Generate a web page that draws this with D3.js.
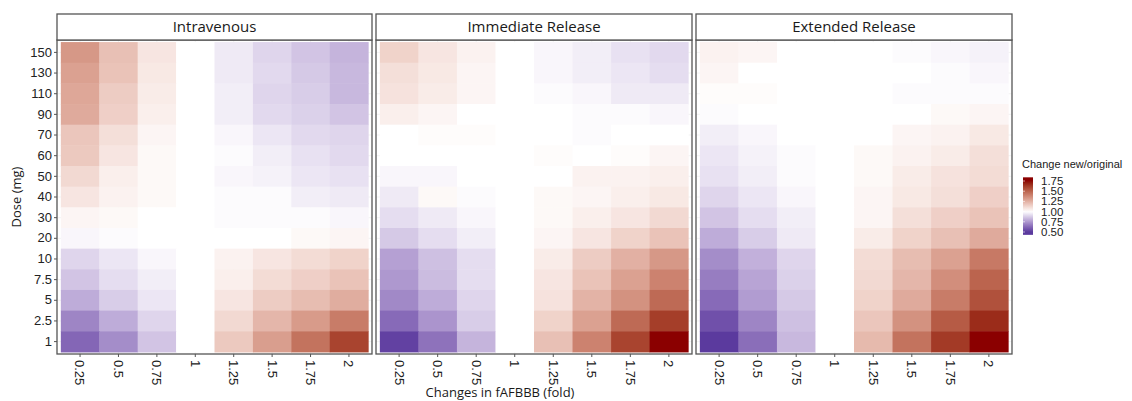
<!DOCTYPE html>
<html>
<head>
<meta charset="utf-8">
<script src="https://cdn.jsdelivr.net/npm/d3@7"></script>
<style>
  body { margin: 0; background: #fff; }
  svg { display: block; }
</style>
</head>
<body>
<div id="chart"></div>
<script>
// categories
var folds = ["0.25", "0.5", "0.75", "1", "1.25", "1.5", "1.75", "2"];
var doses = ["150", "130", "110", "90", "70", "60", "50", "40", "30", "20", "10", "7.5", "5", "2.5", "1"];
var routes = ["Intravenous", "Immediate Release", "Extended Release"];
var legendTicks = [0.5, 0.75, 1.0, 1.25, 1.5, 1.75];

// change new/original, one row per dose (same order as doses), one column per fold
var ivValues = [
  [1.33, 1.20, 1.08, 1, 0.95, 0.90, 0.86, 0.82],
  [1.30, 1.19, 1.07, 1, 0.95, 0.91, 0.87, 0.83],
  [1.28, 1.16, 1.06, 1, 0.96, 0.90, 0.88, 0.83],
  [1.27, 1.15, 1.05, 1, 0.96, 0.91, 0.89, 0.86],
  [1.18, 1.10, 1.03, 1, 0.98, 0.94, 0.91, 0.90],
  [1.17, 1.08, 1.02, 1, 0.99, 0.96, 0.93, 0.91],
  [1.12, 1.05, 1.02, 1, 0.98, 0.97, 0.94, 0.93],
  [1.08, 1.04, 1.02, 1, 0.99, 0.99, 0.96, 0.95],
  [1.03, 1.02, 1.00, 1, 0.99, 0.99, 0.99, 0.98],
  [0.98, 0.99, 1.00, 1, 1.00, 1.00, 1.02, 1.03],
  [0.90, 0.94, 0.98, 1, 1.04, 1.08, 1.11, 1.14],
  [0.86, 0.92, 0.96, 1, 1.05, 1.11, 1.15, 1.19],
  [0.80, 0.88, 0.94, 1, 1.08, 1.16, 1.21, 1.26],
  [0.70, 0.80, 0.90, 1, 1.12, 1.23, 1.32, 1.42],
  [0.62, 0.72, 0.86, 1, 1.17, 1.31, 1.45, 1.60]
];
var irValues = [
  [1.14, 1.08, 1.04, 1, 0.98, 0.96, 0.93, 0.91],
  [1.10, 1.07, 1.03, 1, 0.98, 0.96, 0.94, 0.92],
  [1.09, 1.06, 1.03, 1, 0.99, 0.98, 0.95, 0.95],
  [1.05, 1.03, 1.00, 1, 1.00, 0.99, 0.99, 0.98],
  [1.00, 1.01, 1.01, 1, 1.00, 0.99, 1.00, 1.00],
  [1.00, 1.00, 1.00, 1, 1.01, 1.00, 1.01, 1.03],
  [0.98, 0.98, 1.00, 1, 1.00, 1.04, 1.04, 1.05],
  [0.95, 1.02, 0.99, 1, 1.02, 1.03, 1.05, 1.07],
  [0.92, 0.95, 0.98, 1, 1.02, 1.05, 1.08, 1.12],
  [0.87, 0.92, 0.96, 1, 1.03, 1.08, 1.14, 1.19],
  [0.77, 0.85, 0.92, 1, 1.06, 1.16, 1.25, 1.33],
  [0.75, 0.84, 0.92, 1, 1.08, 1.19, 1.30, 1.40],
  [0.71, 0.80, 0.90, 1, 1.09, 1.24, 1.35, 1.48],
  [0.63, 0.74, 0.88, 1, 1.14, 1.30, 1.48, 1.62],
  [0.52, 0.65, 0.82, 1, 1.20, 1.40, 1.60, 1.75]
];
var erValues = [
  [1.04, 1.03, 1.00, 1, 1.00, 0.99, 0.98, 0.97],
  [1.03, 1.00, 1.00, 1, 1.00, 1.00, 0.99, 0.98],
  [1.01, 1.01, 1.00, 1, 1.00, 0.99, 0.99, 0.99],
  [0.99, 1.00, 1.00, 1, 1.00, 1.00, 1.02, 1.03],
  [0.96, 0.98, 1.00, 1, 1.00, 1.03, 1.04, 1.07],
  [0.94, 0.97, 0.99, 1, 1.02, 1.04, 1.06, 1.10],
  [0.93, 0.96, 0.99, 1, 1.02, 1.06, 1.09, 1.11],
  [0.90, 0.94, 0.98, 1, 1.03, 1.07, 1.10, 1.15],
  [0.86, 0.92, 0.96, 1, 1.03, 1.10, 1.15, 1.19],
  [0.80, 0.88, 0.95, 1, 1.06, 1.14, 1.20, 1.27],
  [0.72, 0.81, 0.90, 1, 1.11, 1.21, 1.30, 1.43],
  [0.68, 0.78, 0.89, 1, 1.12, 1.23, 1.36, 1.50],
  [0.63, 0.76, 0.87, 1, 1.14, 1.27, 1.42, 1.56],
  [0.56, 0.70, 0.85, 1, 1.18, 1.35, 1.53, 1.67],
  [0.50, 0.64, 0.83, 1, 1.22, 1.45, 1.63, 1.75]
];
var panelValues = [ivValues, irValues, erValues];

var width = 1132, height = 401;
var panelTop = 40, panelBottom = 354, stripTop = 14;
var panelX = [[57, 372], [376, 692], [696, 1012]];

var svg = d3.select("#chart").append("svg")
  .attr("width", width)
  .attr("height", height);

var color = d3.scaleLinear()
  .domain([0.5, 1, 1.75])
  .range(["#5b3a9e", "#ffffff", "#8b0000"])
  .interpolate(d3.interpolateLab)
  .clamp(true);

var y = d3.scaleBand()
  .domain(doses)
  .range([panelTop, panelBottom])
  .paddingInner(0)
  .paddingOuter(0.1);

var tickFont = "'Liberation Sans', Arial, sans-serif";
var titleFont = "'Open Sans', 'Noto Sans', sans-serif";

routes.forEach(function (route, p) {
  var x = d3.scaleBand()
    .domain(folds)
    .range(panelX[p])
    .paddingInner(0)
    .paddingOuter(0.1);

  var g = svg.append("g");

  // panel background + grid
  g.append("rect")
    .attr("x", panelX[p][0]).attr("y", panelTop)
    .attr("width", panelX[p][1] - panelX[p][0])
    .attr("height", panelBottom - panelTop)
    .attr("fill", "#fff");

  g.selectAll(".vgrid").data(folds).enter().append("line")
    .attr("x1", function (d) { return x(d) + x.bandwidth() / 2; })
    .attr("x2", function (d) { return x(d) + x.bandwidth() / 2; })
    .attr("y1", panelTop).attr("y2", panelBottom)
    .attr("stroke", "#ebebeb").attr("stroke-width", 0.6);

  g.selectAll(".hgrid").data(doses).enter().append("line")
    .attr("x1", panelX[p][0]).attr("x2", panelX[p][1])
    .attr("y1", function (d) { return y(d) + y.bandwidth() / 2; })
    .attr("y2", function (d) { return y(d) + y.bandwidth() / 2; })
    .attr("stroke", "#ebebeb").attr("stroke-width", 0.6);

  // tiles
  var cells = [];
  panelValues[p].forEach(function (row, i) {
    row.forEach(function (v, j) {
      cells.push({ dose: doses[i], fold: folds[j], value: v });
    });
  });

  g.selectAll(".tile").data(cells).enter().append("rect")
    .attr("x", function (d) { return x(d.fold); })
    .attr("y", function (d) { return y(d.dose); })
    .attr("width", x.bandwidth() + 0.5)
    .attr("height", y.bandwidth() + 0.5)
    .attr("fill", function (d) { return color(d.value); });

  // panel border
  g.append("rect")
    .attr("x", panelX[p][0]).attr("y", panelTop)
    .attr("width", panelX[p][1] - panelX[p][0])
    .attr("height", panelBottom - panelTop)
    .attr("fill", "none")
    .attr("stroke", "#555").attr("stroke-width", 1.3);

  // strip
  g.append("rect")
    .attr("x", panelX[p][0]).attr("y", stripTop)
    .attr("width", panelX[p][1] - panelX[p][0])
    .attr("height", panelTop - stripTop)
    .attr("fill", "#fff")
    .attr("stroke", "#555").attr("stroke-width", 1.3);

  g.append("text")
    .attr("x", (panelX[p][0] + panelX[p][1]) / 2)
    .attr("y", (stripTop + panelTop) / 2 + 5)
    .attr("text-anchor", "middle")
    .attr("font-family", titleFont)
    .attr("font-size", "15px")
    .attr("fill", "#1a1a1a")
    .text(route);

  // x axis
  var xAxis = g.append("g")
    .attr("transform", "translate(0," + panelBottom + ")")
    .call(d3.axisBottom(x).tickSize(3).tickPadding(2));
  xAxis.select(".domain").remove();
  xAxis.selectAll(".tick line").attr("stroke", "#555");
  xAxis.selectAll(".tick text")
    .attr("font-family", tickFont)
    .attr("font-size", "13px")
    .attr("fill", "#222")
    .attr("transform", "rotate(90)")
    .attr("text-anchor", "start")
    .attr("dy", "0.35em")
    .attr("x", 6)
    .attr("y", 0);

  // y axis only on first panel
  if (p === 0) {
    var yAxis = g.append("g")
      .attr("transform", "translate(" + panelX[p][0] + ",0)")
      .call(d3.axisLeft(y).tickSize(3).tickPadding(2));
    yAxis.select(".domain").remove();
    yAxis.selectAll(".tick line").attr("stroke", "#555");
    yAxis.selectAll(".tick text")
      .attr("font-family", tickFont)
      .attr("font-size", "13px")
      .attr("fill", "#222");
  }
});

// axis titles
svg.append("text")
  .attr("x", 500)
  .attr("y", 397)
  .attr("text-anchor", "middle")
  .attr("font-family", titleFont)
  .attr("font-size", "13px")
  .attr("fill", "#1a1a1a")
  .text("Changes in fAFBBB (fold)");

svg.append("text")
  .attr("transform", "translate(21," + ((panelTop + panelBottom) / 2) + ") rotate(-90)")
  .attr("text-anchor", "middle")
  .attr("font-family", titleFont)
  .attr("font-size", "13px")
  .attr("fill", "#1a1a1a")
  .text("Dose (mg)");

// legend
var legendX = 1023, barW = 10;
var legendScale = d3.scaleLinear().domain([0.5, 1.75]).range([232, 181]);
var barTop = legendScale(1.84), barBottom = legendScale(0.43);

svg.append("text")
  .attr("x", 1022).attr("y", 168)
  .attr("font-family", tickFont)
  .attr("font-size", "11px")
  .attr("fill", "#1a1a1a")
  .text("Change new/original");

var defs = svg.append("defs");
var grad = defs.append("linearGradient")
  .attr("id", "legendGrad")
  .attr("x1", 0).attr("y1", 1).attr("x2", 0).attr("y2", 0);
d3.range(0, 1.0001, 0.05).forEach(function (t) {
  var v = legendScale.invert(barBottom + (barTop - barBottom) * t);
  grad.append("stop")
    .attr("offset", t)
    .attr("stop-color", color(v));
});

svg.append("rect")
  .attr("x", legendX).attr("y", barTop)
  .attr("width", barW).attr("height", barBottom - barTop)
  .attr("fill", "url(#legendGrad)");

svg.selectAll(".ltick").data(legendTicks).enter().append("text")
  .attr("x", legendX + barW + 8)
  .attr("y", function (d) { return legendScale(d) + 4; })
  .attr("font-family", tickFont)
  .attr("font-size", "11.5px")
  .attr("fill", "#222")
  .text(function (d) { return d.toFixed(2); });

svg.selectAll(".ltickmark").data(legendTicks).enter().append("line")
  .attr("x1", legendX).attr("x2", legendX + 2)
  .attr("y1", function (d) { return legendScale(d); })
  .attr("y2", function (d) { return legendScale(d); })
  .attr("stroke", "#fff").attr("stroke-width", 0.6);
</script>
</body>
</html>
